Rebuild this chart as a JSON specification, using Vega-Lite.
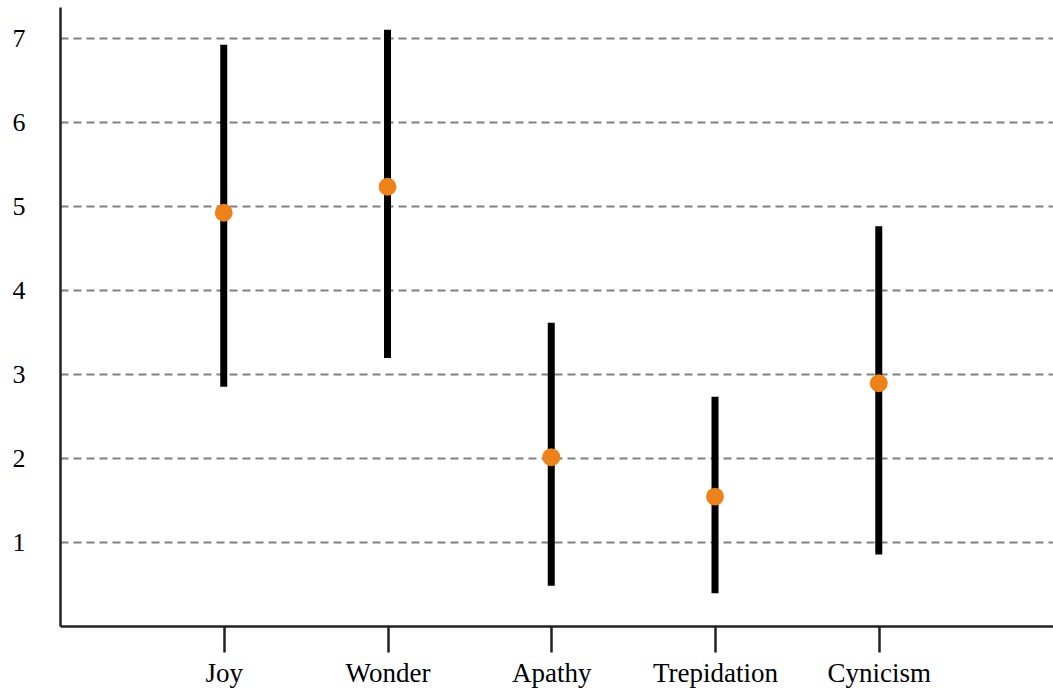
{
  "$schema": "https://vega.github.io/schema/vega-lite/v6.json",
  "width": 993,
  "height": 619,
  "autosize": "none",
  "padding": {"left": 60, "top": 7, "right": 0, "bottom": 67},
  "background": "white",
  "config": {
    "view": {"stroke": null},
    "font": "Liberation Serif"
  },
  "data": {
    "values": [
      {"idx": 1, "emotion": "Joy", "low": 2.85, "high": 6.92, "mean": 4.92},
      {"idx": 2, "emotion": "Wonder", "low": 3.19, "high": 7.1, "mean": 5.23},
      {"idx": 3, "emotion": "Apathy", "low": 0.48, "high": 3.61, "mean": 2.01},
      {"idx": 4, "emotion": "Trepidation", "low": 0.39, "high": 2.73, "mean": 1.54},
      {"idx": 5, "emotion": "Cynicism", "low": 0.85, "high": 4.76, "mean": 2.89}
    ]
  },
  "encoding": {
    "x": {
      "field": "idx",
      "type": "quantitative",
      "scale": {"domain": [0, 6.064], "nice": false, "zero": false},
      "axis": {
        "title": null,
        "values": [1, 2, 3, 4, 5],
        "labelExpr": "['', 'Joy', 'Wonder', 'Apathy', 'Trepidation', 'Cynicism'][datum.value]",
        "labelAngle": 0,
        "labelFont": "Liberation Serif",
        "labelFontSize": 27,
        "labelColor": "black",
        "labelPadding": 8,
        "labelFlush": false,
        "labelOverlap": false,
        "tickSize": 26,
        "tickWidth": 2.5,
        "tickColor": "#222",
        "domainColor": "#222",
        "domainWidth": 2.5,
        "grid": false
      }
    }
  },
  "layer": [
    {
      "mark": {"type": "rule", "strokeWidth": 7, "color": "black", "strokeCap": "butt"},
      "encoding": {
        "y": {
          "field": "low",
          "type": "quantitative",
          "scale": {"domain": [0, 7.37], "nice": false, "zero": true},
          "axis": {
            "title": null,
            "values": [1, 2, 3, 4, 5, 6, 7],
            "format": "d",
            "labelFont": "Liberation Serif",
            "labelFontSize": 26,
            "labelColor": "black",
            "labelPadding": 35,
            "ticks": false,
            "domainColor": "#222",
            "domainWidth": 2.5,
            "grid": true,
            "gridColor": "#808080",
            "gridWidth": 2,
            "gridDash": [8, 5],
            "gridOpacity": 1
          }
        },
        "y2": {"field": "high"}
      }
    },
    {
      "mark": {"type": "point", "filled": true, "size": 320, "color": "#EE8218", "opacity": 1},
      "encoding": {
        "y": {"field": "mean", "type": "quantitative"}
      }
    }
  ]
}
